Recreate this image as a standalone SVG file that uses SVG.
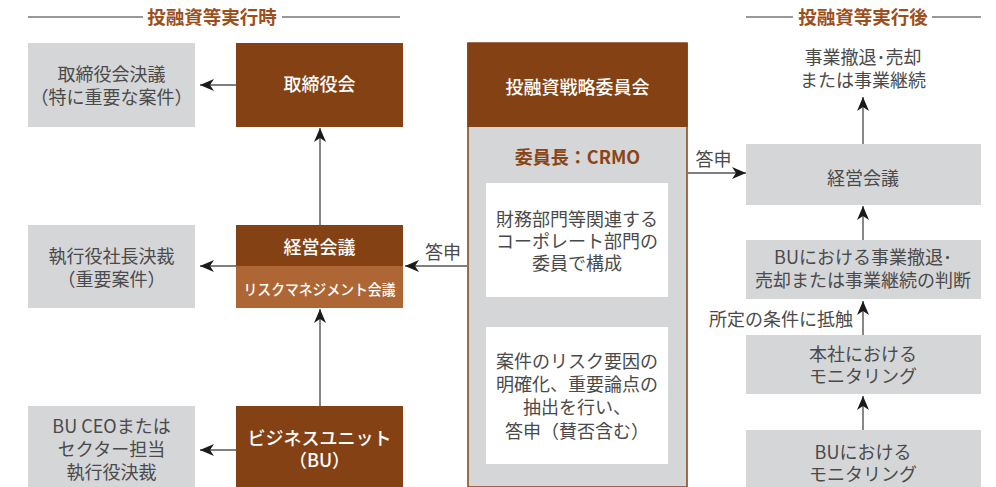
<svg xmlns="http://www.w3.org/2000/svg" width="996" height="487" viewBox="0 0 996 487">
<defs>
<style>
text{font-family:"Noto Sans CJK JP","Noto Sans",sans-serif;text-anchor:middle}
.g{fill:#d5d6d8}
.br{fill:#844214}
.br2{fill:#ad6634}
.gt{fill:#4a4a4a;font-size:18px}
.wt{fill:#ffffff;font-size:18px;font-weight:500}
.hd{fill:#9c4f1c;font-size:18.5px;font-weight:bold}
.hl{stroke:#333;stroke-width:1}
.ln{stroke:#555;stroke-width:1.4;fill:none;marker-end:url(#ah)}
</style>
<marker id="ah" markerUnits="userSpaceOnUse" markerWidth="14" markerHeight="12" refX="14" refY="6" orient="auto">
<path d="M0,0 L14,6 L0,12 L4,6 z" fill="#1a1a1a"/>
</marker>
</defs>
<rect width="996" height="487" fill="#ffffff"/>

<g id="header-left">
<line class="hl" x1="28" y1="17" x2="143" y2="17"/>
<line class="hl" x1="282" y1="17" x2="400" y2="17"/>
<text class="hd" x="212" y="24">投融資等実行時</text>
</g>
<g id="header-right">
<line class="hl" x1="746" y1="17" x2="793" y2="17"/>
<line class="hl" x1="932" y1="17" x2="981" y2="17"/>
<text class="hd" x="863" y="24">投融資等実行後</text>
</g>

<g id="board-decision">
<rect class="g" x="28" y="43" width="167" height="84"/>
<text class="gt" x="111.5" y="81">取締役会決議</text>
<text class="gt" x="111.5" y="104">（特に重要な案件）</text>
</g>
<g id="president-decision">
<rect class="g" x="28" y="225" width="167" height="83"/>
<text class="gt" x="111.5" y="263">執行役社長決裁</text>
<text class="gt" x="111.5" y="286">（重要案件）</text>
</g>
<g id="bu-ceo-decision">
<rect class="g" x="28" y="406" width="167" height="81"/>
<text class="gt" x="111.5" y="433">BU CEOまたは</text>
<text class="gt" x="111.5" y="456">セクター担当</text>
<text class="gt" x="111.5" y="479">執行役決裁</text>
</g>

<g id="board">
<rect class="br" x="236" y="43" width="167" height="84"/>
<text class="wt" x="319.5" y="91">取締役会</text>
</g>
<g id="mgmt-committee">
<rect class="br" x="236" y="225" width="167" height="41"/>
<rect class="br2" x="236" y="266" width="167" height="42"/>
<text class="wt" x="319.5" y="254">経営会議</text>
<text class="wt" x="319.5" y="295" style="font-size:15px" textLength="152" lengthAdjust="spacingAndGlyphs">リスクマネジメント会議</text>
</g>
<g id="business-unit">
<rect class="br" x="236" y="406" width="167" height="81"/>
<text class="wt" x="319.5" y="445">ビジネスユニット</text>
<text class="wt" x="319.5" y="467">（BU）</text>
</g>

<g id="investment-committee">
<rect class="g" x="468" y="43" width="219" height="444" stroke="#844214" stroke-width="1.5"/>
<rect class="br" x="467.25" y="43" width="220.5" height="84"/>
<text class="wt" x="577.5" y="94">投融資戦略委員会</text>
<text x="577.5" y="164" style="fill:#8a4516;font-size:18px;font-weight:bold">委員長：CRMO</text>
<rect x="486" y="183" width="182" height="114" fill="#ffffff"/>
<text class="gt" x="577" y="226">財務部門等関連する</text>
<text class="gt" x="577" y="248">コーポレート部門の</text>
<text class="gt" x="577" y="270">委員で構成</text>
<rect x="486" y="327" width="182" height="137" fill="#ffffff"/>
<text class="gt" x="577" y="368">案件のリスク要因の</text>
<text class="gt" x="577" y="391">明確化、重要論点の</text>
<text class="gt" x="577" y="414">抽出を行い、</text>
<text class="gt" x="577" y="438">答申（賛否含む）</text>
</g>

<g id="exit-decision">
<text class="gt" x="863" y="64">事業撤退･売却</text>
<text class="gt" x="863" y="87">または事業継続</text>
</g>
<g id="mgmt-committee-right">
<rect class="g" x="746" y="144" width="235" height="61"/>
<text class="gt" x="863" y="185">経営会議</text>
</g>
<g id="bu-judgement">
<rect class="g" x="746" y="240" width="235" height="59"/>
<text class="gt" x="863" y="264">BUにおける事業撤退･</text>
<text class="gt" x="863" y="287">売却または事業継続の判断</text>
</g>
<g id="hq-monitoring">
<rect class="g" x="746" y="335" width="235" height="59"/>
<text class="gt" x="863" y="361">本社における</text>
<text class="gt" x="863" y="383">モニタリング</text>
</g>
<g id="bu-monitoring">
<rect class="g" x="746" y="430" width="235" height="57"/>
<text class="gt" x="863" y="459">BUにおける</text>
<text class="gt" x="863" y="481">モニタリング</text>
</g>

<g id="connectors">
<line class="ln" x1="236" y1="85" x2="200" y2="85"/>
<line class="ln" x1="236" y1="266" x2="200" y2="266"/>
<line class="ln" x1="236" y1="450" x2="200" y2="450"/>
<line class="ln" x1="320" y1="406" x2="320" y2="309"/>
<line class="ln" x1="320" y1="225" x2="320" y2="128"/>
<line class="ln" x1="467" y1="266" x2="405" y2="266"/>
<line class="ln" x1="688" y1="173" x2="746" y2="173"/>
<line class="ln" x1="863" y1="144" x2="863" y2="97"/>
<line class="ln" x1="863" y1="240" x2="863" y2="206"/>
<line class="ln" x1="863" y1="335" x2="863" y2="301"/>
<line class="ln" x1="863" y1="430" x2="863" y2="396"/>
<text class="gt" x="443" y="259">答申</text>
<text class="gt" x="713.5" y="166">答申</text>
<text class="gt" x="853" y="326" style="text-anchor:end">所定の条件に抵触</text>
</g>
</svg>
